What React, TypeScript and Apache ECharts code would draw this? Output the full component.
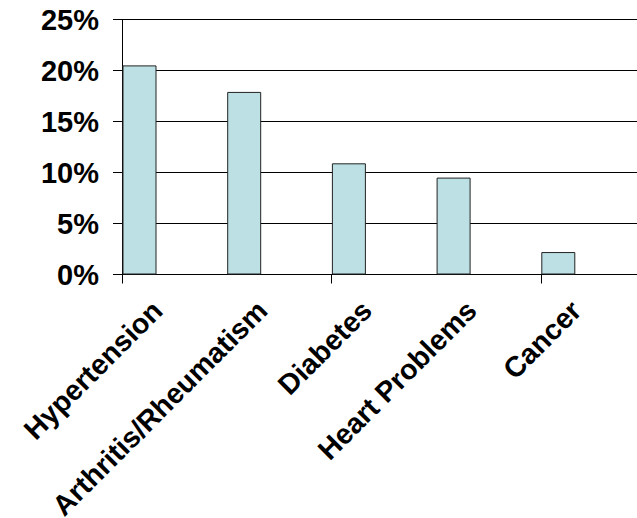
import React, { useEffect, useRef } from "react";
import * as echarts from "echarts";

const categories = ["Hypertension", "Arthritis/Rheumatism", "Diabetes", "Heart Problems", "Cancer"];
const values = [20.5, 17.9, 10.9, 9.5, 2.2];
const yTicks = { min: 0, max: 25, interval: 5 };

export default function App() {
  const ref = useRef<HTMLDivElement>(null);
  useEffect(() => {
    if (!ref.current) return;
    const chart = echarts.init(ref.current, undefined, { renderer: "svg" });
    const W = 637;
    const plotLeft = 122;
    const plotWidth = 523.5;
    const top = 19.5;
    const bottom = 518 - 274.5;
    const catW = plotWidth / categories.length;
    const barShift = catW / 2 - 17.5;
    const labelShift = 17;
    const mkGrid = (shift: number) => ({
      left: plotLeft - shift,
      right: W - (plotLeft - shift) - plotWidth,
      top,
      bottom,
      containLabel: false,
      outerBoundsMode: "none",
    });
    const font = "'Liberation Sans', Arial, sans-serif";
    chart.setOption({
      animation: false,
      grid: [mkGrid(0), mkGrid(barShift), mkGrid(labelShift)],
      xAxis: [
        {
          type: "category",
          gridIndex: 0,
          data: categories,
          boundaryGap: true,
          axisLine: { show: true, lineStyle: { color: "#000", width: 1 } },
          axisTick: { show: true, length: 9, lineStyle: { color: "#000" } },
          axisLabel: { show: false },
          splitLine: { show: false },
        },
        {
          type: "category",
          gridIndex: 1,
          data: categories,
          show: false,
        },
        {
          type: "category",
          gridIndex: 2,
          data: categories,
          axisLine: { show: false },
          axisTick: { show: false },
          splitLine: { show: false },
          axisLabel: {
            show: true,
            interval: 0,
            rotate: 45,
            margin: 31,
            color: "#000",
            fontSize: 28.5,
            fontWeight: "bold",
            fontFamily: font,
          },
        },
      ],
      yAxis: [
        {
          type: "value",
          gridIndex: 0,
          min: yTicks.min,
          max: yTicks.max,
          interval: yTicks.interval,
          axisLine: { show: true, lineStyle: { color: "#000", width: 1 } },
          axisTick: { show: true, length: 9, lineStyle: { color: "#000" } },
          axisLabel: {
            formatter: "{value}%",
            margin: 23,
            color: "#000",
            fontSize: 29,
            fontWeight: "bold",
            fontFamily: font,
          },
          splitLine: { show: true, lineStyle: { color: "#000", width: 1 } },
        },
        { type: "value", gridIndex: 1, min: yTicks.min, max: yTicks.max, show: false, splitLine: { show: false } },
        { type: "value", gridIndex: 2, min: yTicks.min, max: yTicks.max, show: false, splitLine: { show: false } },
      ],
      series: [
        {
          type: "bar",
          xAxisIndex: 1,
          yAxisIndex: 1,
          data: values,
          barWidth: 34,
          itemStyle: { color: "#BDE0E4", borderColor: "#222", borderWidth: 1 },
        },
      ],
    });
    return () => chart.dispose();
  }, []);
  return <div ref={ref} style={{ position: "absolute", left: 0, top: 0, width: 637, height: 518, background: "#fff" }} />;
}
